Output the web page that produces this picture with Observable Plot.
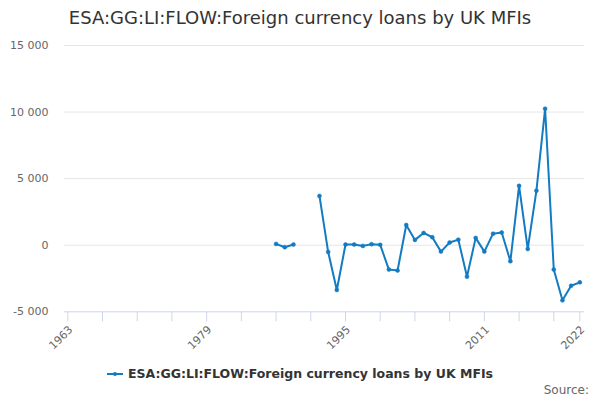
<!DOCTYPE html>
<html>
<head>
<meta charset="utf-8">
<script src="https://cdn.jsdelivr.net/npm/d3@7"></script>
<script src="https://cdn.jsdelivr.net/npm/@observablehq/plot@0.6"></script>
<style>
  html, body { margin: 0; padding: 0; background: #fff; }
  body { font-family: "DejaVu Sans", sans-serif; }
  #wrap { position: relative; width: 600px; height: 400px; overflow: hidden; }
  #title { position: absolute; left: 0; width: 600px; top: 6px; text-align: center; font-size: 18px; color: #333; white-space: nowrap; line-height: 24px; padding-left: 0px; }
  #chart { position: absolute; left: 0; top: 36px; }
  #legend { position: absolute; left: 0; width: 600px; top: 365px; text-align: center; font-size: 12.5px; font-weight: bold; color: #333; white-space: nowrap; line-height: 18px; }
  #legend svg { vertical-align: middle; margin-right: 5px; position: relative; top: -1px; }
  #source { position: absolute; right: 11px; top: 382px; font-size: 12px; color: #666; line-height: 16px; }
</style>
</head>
<body>
<div id="wrap">
  <div id="title"></div>
  <div id="chart"></div>
  <div id="legend"></div>
  <div id="source">Source:</div>
</div>
<script>
const titleText = "ESA:GG:LI:FLOW:Foreign currency loans by UK MFIs";
const seriesName = "ESA:GG:LI:FLOW:Foreign currency loans by UK MFIs";
const years = [1987,1988,1989,1990,1991,1992,1993,1994,1995,1996,1997,1998,1999,2000,2001,2002,2003,2004,2005,2006,2007,2008,2009,2010,2011,2012,2013,2014,2015,2016,2017,2018,2019,2020,2021,2022];
const values = [100,-150,50,null,null,3700,-500,-3360,50,50,-50,80,30,-1830,-1900,1520,400,920,600,-480,200,420,-2360,550,-480,870,950,-1200,4460,-280,4100,10250,-1830,-4140,-3040,-2790];
const xTicks = [1963,1967,1971,1975,1979,1983,1987,1991,1995,1999,2003,2007,2011,2015,2019,2022];
const xLabels = [1963,1979,1995,2011,2022];
const yTicks = [-5000,0,5000,10000,15000];
const yGrid = [0,5000,10000,15000];
const lineColor = "#137bc1";

const data = years.map((year, i) => ({year, value: values[i]}));
const fmt = v => d3.format(",")(v).replace(/,/g, " ").replace("−", "-");

document.getElementById("title").textContent = titleText;

const chart = Plot.plot({
  width: 600,
  height: 320,
  marginTop: 9,
  marginBottom: 44.7,
  marginLeft: 64,
  marginRight: 16,
  style: {fontFamily: "DejaVu Sans, sans-serif", fontSize: "11px", color: "#666", background: "#fff"},
  x: {domain: [1962.62, 2022.54], axis: null, label: null},
  y: {domain: [-5000, 15000], axis: null, label: null},
  marks: [
    Plot.ruleY(yGrid, {stroke: "#e6e6e6", strokeWidth: 1}),
    Plot.ruleY([-5000], {stroke: "#ccd6eb", strokeWidth: 1}),
    Plot.axisX({ticks: xTicks, tickSize: 10, stroke: "#ccd6eb", tickFormat: () => "", anchor: "bottom", label: null}),
    Plot.text(xLabels, {x: d => d, y: -5000, text: d => String(d), rotate: -45, textAnchor: "end", lineAnchor: "middle", dy: 16, dx: 3, fill: "#666", fontSize: 11}),
    Plot.axisY({ticks: yTicks, tickSize: 0, tickPadding: 16, tickFormat: fmt, anchor: "left", fill: "#666", fontSize: 11, label: null}),
    Plot.line(data, {x: "year", y: "value", stroke: lineColor, strokeWidth: 2, curve: "linear"}),
    Plot.dot(data.filter(d => d.value != null), {x: "year", y: "value", r: 2, fill: lineColor, stroke: lineColor, strokeWidth: 0.5})
  ]
});
document.getElementById("chart").appendChild(chart);

const legend = document.getElementById("legend");
legend.innerHTML = `<svg width="16" height="10"><line x1="0" y1="5" x2="16" y2="5" stroke="${lineColor}" stroke-width="2"/><circle cx="8" cy="5" r="2" fill="${lineColor}"/></svg>`;
legend.appendChild(document.createTextNode(seriesName));
</script>
</body>
</html>
